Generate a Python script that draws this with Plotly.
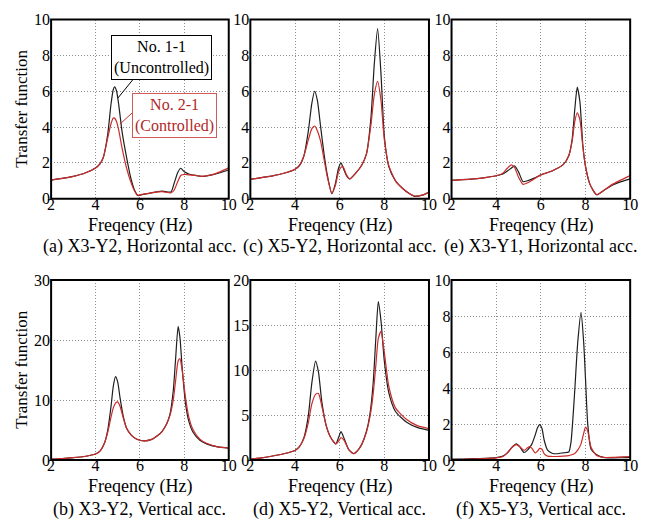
import plotly.graph_objects as go

# ---------------- data ----------------
# (a) X3-Y2, Horizontal acc.
freq_a = [2.0, 2.5, 3.0, 3.5, 4.0, 4.2, 4.35, 4.55, 4.7, 4.8, 4.86, 4.95, 5.05, 5.2, 5.4, 5.6,
          5.75, 5.9, 6.1, 6.5, 7.0, 7.4, 7.55, 7.7, 7.84, 8.0, 8.2, 8.5, 8.8, 9.2, 9.6, 10.0]
unc_a = [1.04, 1.13, 1.25, 1.42, 1.72, 1.95, 2.3, 3.6, 5.3, 6.1, 6.25, 6.0, 5.2, 3.7, 2.3, 1.1,
         0.5, 0.18, 0.22, 0.33, 0.42, 0.38, 0.9, 1.45, 1.7, 1.5, 1.38, 1.3, 1.25, 1.32, 1.45, 1.62]
con_a = [1.04, 1.13, 1.25, 1.42, 1.72, 1.95, 2.3, 3.4, 4.2, 4.5, 4.5, 4.3, 3.8, 2.8, 1.7, 0.9,
         0.45, 0.2, 0.24, 0.33, 0.4, 0.32, 0.5, 0.95, 1.3, 1.36, 1.33, 1.3, 1.25, 1.33, 1.5, 1.72]

# (c) X5-Y2, Horizontal acc.
freq_c = [2.0, 2.5, 3.0, 3.5, 4.0, 4.2, 4.4, 4.6, 4.75, 4.88, 5.0, 5.15, 5.3, 5.45, 5.65, 5.8,
          5.95, 6.06, 6.15, 6.3, 6.45, 6.7, 7.0, 7.2, 7.4, 7.55, 7.7, 7.85, 8.0, 8.2, 8.5, 8.8,
          9.1, 9.35, 9.7, 10.0]
unc_c = [1.08, 1.18, 1.28, 1.42, 1.65, 1.85, 2.4, 3.8, 5.3, 6.0, 5.5, 4.0, 2.5, 1.3, 0.27, 0.8,
         1.7, 2.0, 1.75, 1.3, 1.1, 1.4, 1.9, 2.5, 4.5, 7.5, 9.5, 7.0, 3.5, 1.8, 1.0, 0.6,
         0.3, 0.13, 0.2, 0.36]
con_c = [1.08, 1.18, 1.28, 1.42, 1.65, 1.87, 2.4, 3.3, 3.9, 4.06, 3.8, 3.2, 2.2, 1.2, 0.3, 0.7,
         1.5, 1.75, 1.8, 1.35, 1.1, 1.4, 1.9, 2.5, 4.1, 5.8, 6.55, 5.5, 3.3, 1.85, 1.0, 0.6,
         0.3, 0.15, 0.2, 0.36]

# (e) X3-Y1, Horizontal acc.
freq_e = [2.0, 2.5, 3.0, 3.5, 4.0, 4.3, 4.5, 4.67, 4.82, 5.0, 5.2, 5.4, 5.7, 6.0, 6.5, 7.0,
          7.25, 7.4, 7.52, 7.63, 7.75, 7.88, 8.0, 8.2, 8.5, 8.8, 9.2, 9.6, 10.0]
unc_e = [1.02, 1.06, 1.11, 1.18, 1.28, 1.38, 1.55, 1.7, 1.83, 1.5, 0.95, 1.0, 1.15, 1.33, 1.55, 1.9,
         2.4, 3.3, 5.0, 6.23, 5.4, 3.0, 1.8, 0.8, 0.22, 0.45, 0.75, 0.95, 1.11]
con_e = [1.02, 1.06, 1.11, 1.18, 1.28, 1.42, 1.7, 1.89, 1.75, 1.2, 0.8, 0.88, 1.1, 1.33, 1.55, 1.9,
         2.4, 3.2, 4.3, 4.8, 4.4, 2.9, 1.8, 0.8, 0.22, 0.45, 0.8, 1.05, 1.29]

# (b) X3-Y2, Vertical acc.
freq_b = [2.0, 2.5, 3.0, 3.5, 4.0, 4.2, 4.4, 4.55, 4.7, 4.8, 4.9, 5.0, 5.1, 5.25, 5.4, 5.6,
          5.8, 6.0, 6.2, 6.5, 6.8, 7.0, 7.2, 7.35, 7.5, 7.6, 7.72, 7.8, 7.9, 8.05, 8.2, 8.4,
          8.7, 9.0, 9.5, 10.0]
unc_b = [0.15, 0.25, 0.4, 0.6, 1.0, 1.5, 2.8, 5.0, 9.0, 12.3, 13.9, 13.0, 10.5, 7.3, 5.3, 4.2,
         3.6, 3.3, 3.2, 3.4, 4.1, 4.8, 6.0, 7.6, 11.5, 16.5, 22.3, 20.5, 15.5, 9.5, 6.5, 4.6,
         3.3, 2.7, 2.2, 2.0]
con_b = [0.15, 0.25, 0.4, 0.6, 1.0, 1.5, 2.8, 4.6, 7.2, 8.7, 9.5, 9.7, 9.0, 7.0, 5.3, 4.2,
         3.6, 3.3, 3.2, 3.4, 4.1, 4.8, 6.0, 7.4, 10.0, 13.0, 16.5, 16.9, 15.0, 10.5, 7.2, 5.0,
         3.5, 2.8, 2.2, 2.0]

# (d) X5-Y2, Vertical acc.
freq_d = [2.0, 2.5, 3.0, 3.5, 4.0, 4.2, 4.4, 4.6, 4.75, 4.92, 5.05, 5.2, 5.4, 5.6, 5.83, 5.95,
          6.06, 6.2, 6.4, 6.63, 6.85, 7.0, 7.2, 7.35, 7.5, 7.62, 7.73, 7.85, 8.0, 8.2, 8.5, 9.0,
          9.5, 10.0]
unc_d = [0.1, 0.25, 0.45, 0.7, 1.07, 1.5, 2.5, 5.0, 8.5, 11.0, 9.8, 6.5, 3.8, 2.5, 1.8, 2.5,
         3.15, 2.4, 1.2, 0.72, 1.2, 1.8, 3.2, 5.0, 8.5, 13.5, 17.6, 15.5, 11.0, 7.5, 5.4, 4.2,
         3.6, 3.3]
con_d = [0.1, 0.25, 0.45, 0.7, 1.07, 1.5, 2.4, 4.2, 6.2, 7.3, 7.4, 6.0, 3.8, 2.5, 1.8, 2.1,
         2.5, 2.2, 1.2, 0.72, 1.2, 1.8, 3.1, 4.7, 7.3, 10.5, 13.5, 14.3, 12.0, 8.2, 5.8, 4.5,
         3.8, 3.5]

# (f) X5-Y3, Vertical acc.
freq_f = [2.0, 2.5, 3.0, 3.5, 4.0, 4.3, 4.5, 4.7, 4.9, 5.05, 5.25, 5.4, 5.5, 5.6, 5.75, 5.85,
          5.95, 6.05, 6.15, 6.3, 6.5, 6.7, 7.0, 7.25, 7.35, 7.5, 7.65, 7.8, 7.92, 8.0, 8.1, 8.25,
          8.5, 8.8, 9.2, 9.6, 10.0]
unc_f = [0.05, 0.06, 0.08, 0.1, 0.14, 0.22, 0.4, 0.7, 0.9, 0.75, 0.42, 0.55, 0.7, 0.9, 1.4, 1.8,
         1.97, 1.75, 1.1, 0.55, 0.38, 0.35, 0.4, 0.45, 1.0, 3.5, 6.5, 8.2, 6.5, 4.5, 2.0, 0.6,
         0.3, 0.15, 0.12, 0.13, 0.15]
con_f = [0.03, 0.04, 0.06, 0.08, 0.12, 0.2, 0.4, 0.7, 0.86, 0.75, 0.54, 0.68, 0.75, 0.65, 0.4, 0.5,
         0.65, 0.6, 0.35, 0.22, 0.2, 0.2, 0.22, 0.25, 0.28, 0.35, 0.55, 0.9, 1.5, 1.83, 1.6, 0.7,
         0.25, 0.15, 0.15, 0.18, 0.2]

captions = ["(a) X3-Y2, Horizontal acc.", "(c) X5-Y2, Horizontal acc.", "(e) X3-Y1, Horizontal acc.",
            "(b) X3-Y2, Vertical acc.", "(d) X5-Y2, Vertical acc.", "(f) X5-Y3, Vertical acc."]
y_max = [10, 10, 10, 30, 20, 10]
y_dtick = [2, 2, 2, 10, 5, 2]
x_ticks = [2, 4, 6, 8, 10]

panels = [(freq_a, unc_a, con_a), (freq_c, unc_c, con_c), (freq_e, unc_e, con_e),
          (freq_b, unc_b, con_b), (freq_d, unc_d, con_d), (freq_f, unc_f, con_f)]

# ---------------- layout geometry ----------------
W, H = 647, 532
col_px = [(48, 229), (251, 433), (456, 638)]
row_px = [(12, 197), (281, 467)]
FONT = "Liberation Serif, Times New Roman, serif"
BLACK = "#1e1e1e"
RED = "#cc2b2b"

fig = go.Figure()
layout = dict(width=W, height=H, margin=dict(l=0, r=0, t=0, b=0),
              paper_bgcolor="white", plot_bgcolor="white", showlegend=False,
              font=dict(family=FONT, size=16, color="black"))
annotations = []
shapes = []

for i, (fr, unc, con) in enumerate(panels):
    r, c = divmod(i, 3)
    n = i + 1
    xs = "x" if n == 1 else f"x{n}"
    ys = "y" if n == 1 else f"y{n}"
    assert len(fr) == len(unc) == len(con)
    for vals, col in ((unc, BLACK), (con, RED)):
        fig.add_trace(go.Scatter(x=fr, y=vals, mode="lines", xaxis=xs, yaxis=ys,
                                 line=dict(color=col, width=1.2, shape="spline", smoothing=0.6),
                                 hoverinfo="skip"))
    x0, x1 = col_px[c]
    y0, y1 = row_px[r]
    axis_common = dict(showline=False, showgrid=True, gridcolor="#8c8c8c", griddash="1px,2px",
                       gridwidth=1, zeroline=False, ticks="",
                       tickfont=dict(family=FONT, size=16, color="black"))
    layout["xaxis" if n == 1 else f"xaxis{n}"] = dict(
        domain=[x0 / W, x1 / W], anchor="free", position=1 - (y1 - 6) / H,
        overlaying=None, range=[2, 10], tickvals=x_ticks, **axis_common)
    layout["yaxis" if n == 1 else f"yaxis{n}"] = dict(
        domain=[1 - y1 / H, 1 - y0 / H], anchor=xs, range=[0, y_max[i]], dtick=y_dtick[i],
        **axis_common)
    # frame around the plot area
    shapes.append(dict(type="rect", xref=f"{xs} domain", yref=f"{ys} domain",
                       x0=0, x1=1, y0=0, y1=1, line=dict(color="black", width=2),
                       fillcolor="rgba(0,0,0,0)", layer="above"))
    xc = (x0 + x1) / 2 / W
    lab_y = 225 if r == 0 else 494
    cap_y = 246 if r == 0 else 518
    annotations.append(dict(text="Freqency (Hz)", x=xc, y=1 - lab_y / H, xref="paper", yref="paper",
                            showarrow=False, xanchor="center", yanchor="middle",
                            font=dict(family=FONT, size=18, color="black")))
    annotations.append(dict(text=captions[i], x=xc, y=1 - cap_y / H, xref="paper", yref="paper",
                            showarrow=False, xanchor="center", yanchor="middle",
                            font=dict(family=FONT, size=18, color="black")))

for r in range(2):
    y0, y1 = row_px[r]
    annotations.append(dict(text="Transfer function", x=17 / W, y=1 - (y0 + y1) / 2 / H,
                            xref="paper", yref="paper", showarrow=False, textangle=-90,
                            xanchor="center", yanchor="middle",
                            font=dict(family=FONT, size=17, color="black")))

# labels in panel (a)
annotations.append(dict(text="No. 1-1<br>(Uncontrolled)", x=6.95, y=7.89, xref="x", yref="y",
                        showarrow=False, xanchor="center", yanchor="middle",
                        bgcolor="white", bordercolor="black", borderwidth=1, borderpad=2,
                        font=dict(family=FONT, size=16, color="black")))
annotations.append(dict(text="No. 2-1<br>(Controlled)", x=7.55, y=4.65, xref="x", yref="y",
                        showarrow=False, xanchor="center", yanchor="middle",
                        bgcolor="white", bordercolor="#d05a5a", borderwidth=1, borderpad=2,
                        font=dict(family=FONT, size=16, color="#b02828")))
layout["annotations"] = annotations
shapes += [
    dict(type="line", xref="x", yref="y", x0=5.757, y0=6.76, x1=5.006, y1=5.62,
         line=dict(color="black", width=1)),
    dict(type="line", xref="x", yref="y", x0=5.668, y0=4.81, x1=5.094, y1=4.16,
         line=dict(color=RED, width=1)),
]
layout["shapes"] = shapes

fig.update_layout(**layout)
fig.write_html("out.html")
